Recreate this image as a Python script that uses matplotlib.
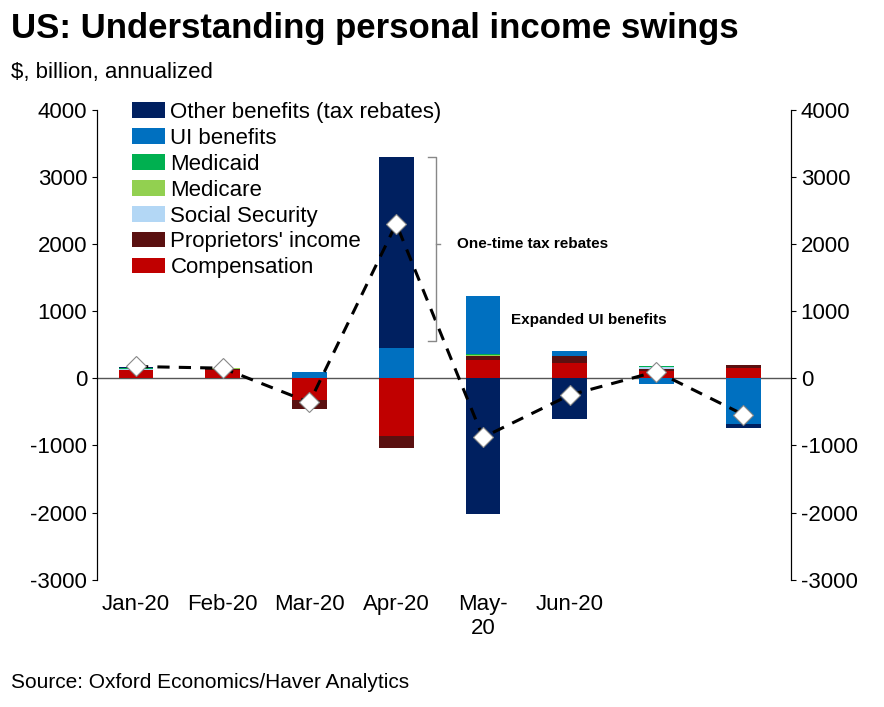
import matplotlib
matplotlib.use("Agg")
import matplotlib.pyplot as plt
import numpy as np

plt.rcParams['font.family'] = ['Liberation Sans', 'DejaVu Sans']
plt.rcParams['axes.unicode_minus'] = False

labels = ["Jan-20", "Feb-20", "Mar-20", "Apr-20", "May-\n20", "Jun-20", "", ""]
compensation = [120, 120, -330, -860, 270, 230, 110, 150]
proprietors = [10, 20, -130, -180, 60, 100, 30, 40]
social_security = [15, 0, 0, 0, 0, 0, 20, 0]
medicare = [0, 10, 0, 0, 10, 0, 0, 0]
medicaid = [5, 5, 10, 10, 20, 5, 15, 10]
ui_benefits = [0, 0, 80, 440, 860, 70, -80, -680]
other_benefits = [20, 0, 0, 2850, -2020, -600, 0, -60]
total = [175, 150, -360, 2300, -880, -250, 100, -540]

series = [
    ("Compensation", compensation, "#c00000"),
    ("Proprietors' income", proprietors, "#5a1010"),
    ("Social Security", social_security, "#b3d7f5"),
    ("Medicare", medicare, "#92d050"),
    ("Medicaid", medicaid, "#00b050"),
    ("UI benefits", ui_benefits, "#0070c0"),
    ("Other benefits (tax rebates)", other_benefits, "#002060"),
]

fig = plt.figure(figsize=(8.84, 7.07), dpi=100)
ax = fig.add_axes([0.1097, 0.18, 0.785, 0.665])
x = np.arange(len(labels))
pos = np.zeros(len(labels)); neg = np.zeros(len(labels))
handles = {}
for name, vals, col in series:
    v = np.array(vals, dtype=float)
    bottom = np.where(v >= 0, pos, neg)
    handles[name] = ax.bar(x, v, 0.4, bottom=bottom, color=col, label=name)
    pos = pos + np.where(v >= 0, v, 0)
    neg = neg + np.where(v < 0, v, 0)
ax.plot(x, total, color="black", ls=(0, (4, 3)), lw=2.2, marker="D", ms=10,
        mfc="white", mec="#888888", mew=0.8)
ax.axhline(0, color="#555555", lw=1, zorder=0)
ax.set_ylim(-3000, 4000)
ax.set_xlim(-0.45, 7.55)
ax.set_yticks(range(-3000, 4001, 1000))
ax.set_xticks(x)
ax.set_xticklabels(labels, fontsize=16)
ax.tick_params(axis='y', labelsize=16, direction='out')
ax.tick_params(axis='x', length=0, pad=10)
ax.spines["top"].set_visible(False)
ax.spines["bottom"].set_visible(False)
ax2 = ax.twinx()
ax2.set_ylim(-3000, 4000)
ax2.set_yticks(range(-3000, 4001, 1000))
ax2.tick_params(axis='y', labelsize=16)
ax2.spines["top"].set_visible(False)
ax2.spines["bottom"].set_visible(False)

order = ["Other benefits (tax rebates)", "UI benefits", "Medicaid", "Medicare",
         "Social Security", "Proprietors' income", "Compensation"]
ax.legend([handles[n] for n in order], order, loc="upper left",
          bbox_to_anchor=(0.037, 1.035), fontsize=16, frameon=False,
          handlelength=1.5, handleheight=0.7, handletextpad=0.25,
          labelspacing=0.22, borderaxespad=0)

# bracket annotation
ax.plot([3.37, 3.46, 3.46, 3.37], [3300, 3300, 550, 550], color="#888888", lw=1)
ax.plot([3.46, 3.5], [2000, 2000], color="#888888", lw=1)
ax.text(3.7, 2000, "One-time tax rebates", fontsize=11, fontweight="bold", va="center")
ax.text(4.32, 870, "Expanded UI benefits", fontsize=11, fontweight="bold", va="center")

fig.text(0.012, 0.96, "US: Understanding personal income swings", fontsize=25,
         fontweight="bold", va="center")
fig.text(0.012, 0.897, "$, billion, annualized", fontsize=16, va="center")
fig.text(0.012, 0.035, "Source: Oxford Economics/Haver Analytics", fontsize=15, va="center")
fig.savefig("out.png", dpi=100)
